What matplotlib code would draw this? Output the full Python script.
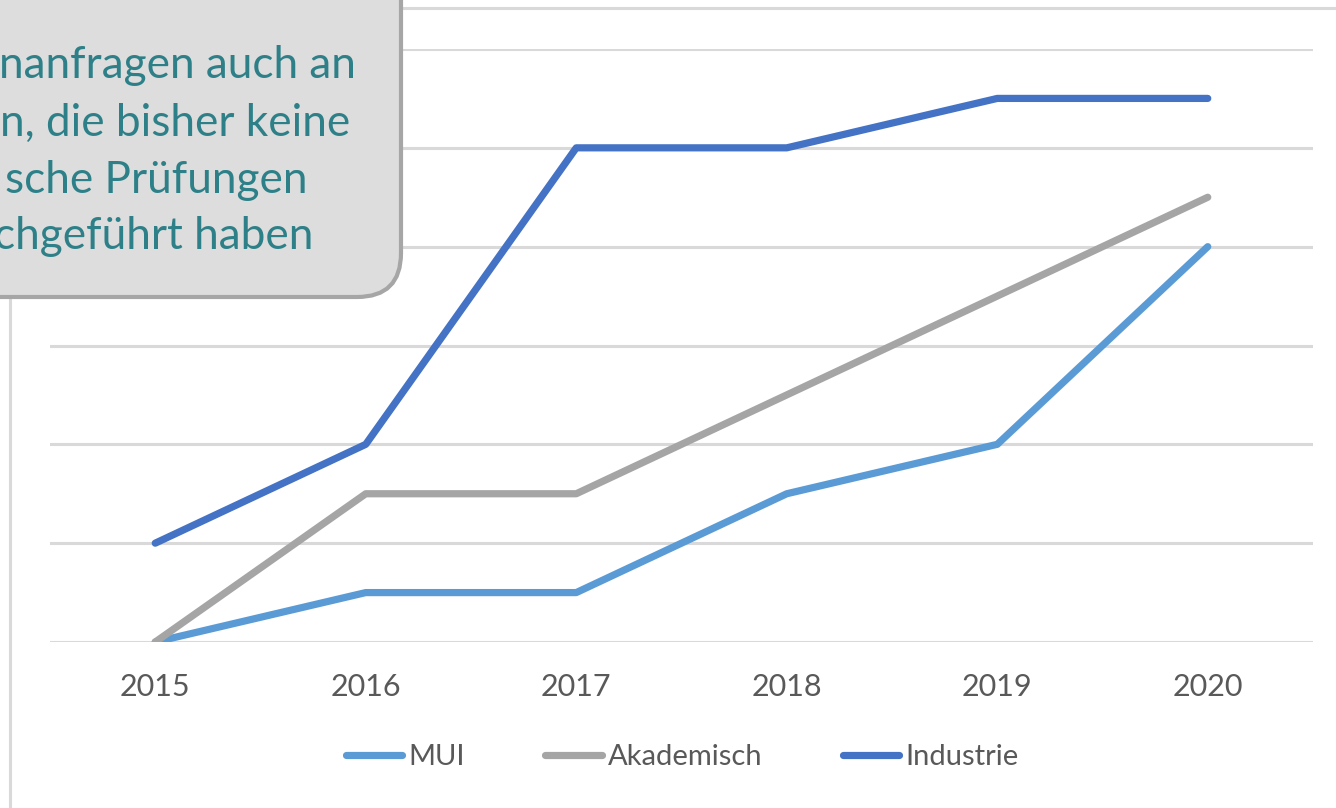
import matplotlib.pyplot as plt
from matplotlib.patches import FancyBboxPatch, Rectangle

plt.rcParams['font.family'] = ['Lato', 'DejaVu Sans']

years = [2015, 2016, 2017, 2018, 2019, 2020]
mui = [0, 0.5, 0.5, 1.5, 2, 4]
akademisch = [0, 1.5, 1.5, 2.5, 3.5, 4.5]
industrie = [1, 2, 5, 5, 5.5, 5.5]

series_names = ['MUI', 'Akademisch', 'Industrie']
series_colors = ['#5B9BD5', '#A5A5A5', '#4472C4']

callout_lines = ['nanfragen auch an', 'n, die bisher keine', 'sche Prüfungen', 'chgeführt haben']

W, H = 1336, 808
fig = plt.figure(figsize=(W / 100, H / 100), dpi=100)
fig.patch.set_facecolor('white')

# main chart area (pixel box 50..1313 x 49..642)
ax = fig.add_axes([50 / W, (H - 642) / H, 1263 / W, 593 / H])
ax.set_facecolor('none')
for vals, name, col in zip([mui, akademisch, industrie], series_names, series_colors):
    ax.plot(years, vals, color=col, lw=5.2, label=name,
            solid_capstyle='round', solid_joinstyle='round', zorder=3)

ax.set_xlim(2014.5, 2020.5)
ax.set_ylim(0, 6)
ax.set_xticks(years)
ax.set_xticklabels([str(y) for y in years])
ax.set_yticks(range(7))
ax.set_yticklabels([])
ax.grid(axis='y', color='#D9D9D9', lw=2.2)
ax.tick_params(length=0, pad=22, labelsize=22, labelcolor='#595959')
for s in ax.spines.values():
    s.set_visible(False)

fig.legend(loc='center', bbox_to_anchor=(682 / W, 1 - 757 / H), ncol=3,
           frameon=False, fontsize=21, labelcolor='#595959',
           handlelength=1.95, handletextpad=0.2, columnspacing=2.75)

# overlay in pixel coordinates for chart frame and callout box
ov = fig.add_axes([0, 0, 1, 1], zorder=5)
ov.set_xlim(0, W)
ov.set_ylim(H, 0)
ov.axis('off')
ov.patch.set_alpha(0)

ov.add_patch(Rectangle((10, 8), 1500, 1000, fill=False, ec='#D9D9D9', lw=2.2))

box = FancyBboxPatch((-80, -80), 481, 377,
                     boxstyle='round,pad=0,rounding_size=44',
                     fc='#DDDDDD', ec='#A6A6A6', lw=3)
ov.add_patch(box)

line_x = [-1, 0, 5, -6]
line_y = [78, 136, 193, 249]
for txt, x, y in zip(callout_lines, line_x, line_y):
    ov.text(x, y, txt, fontsize=31.8, color='#2E8088', ha='left', va='baseline')

fig.savefig('out.png', dpi=100)
